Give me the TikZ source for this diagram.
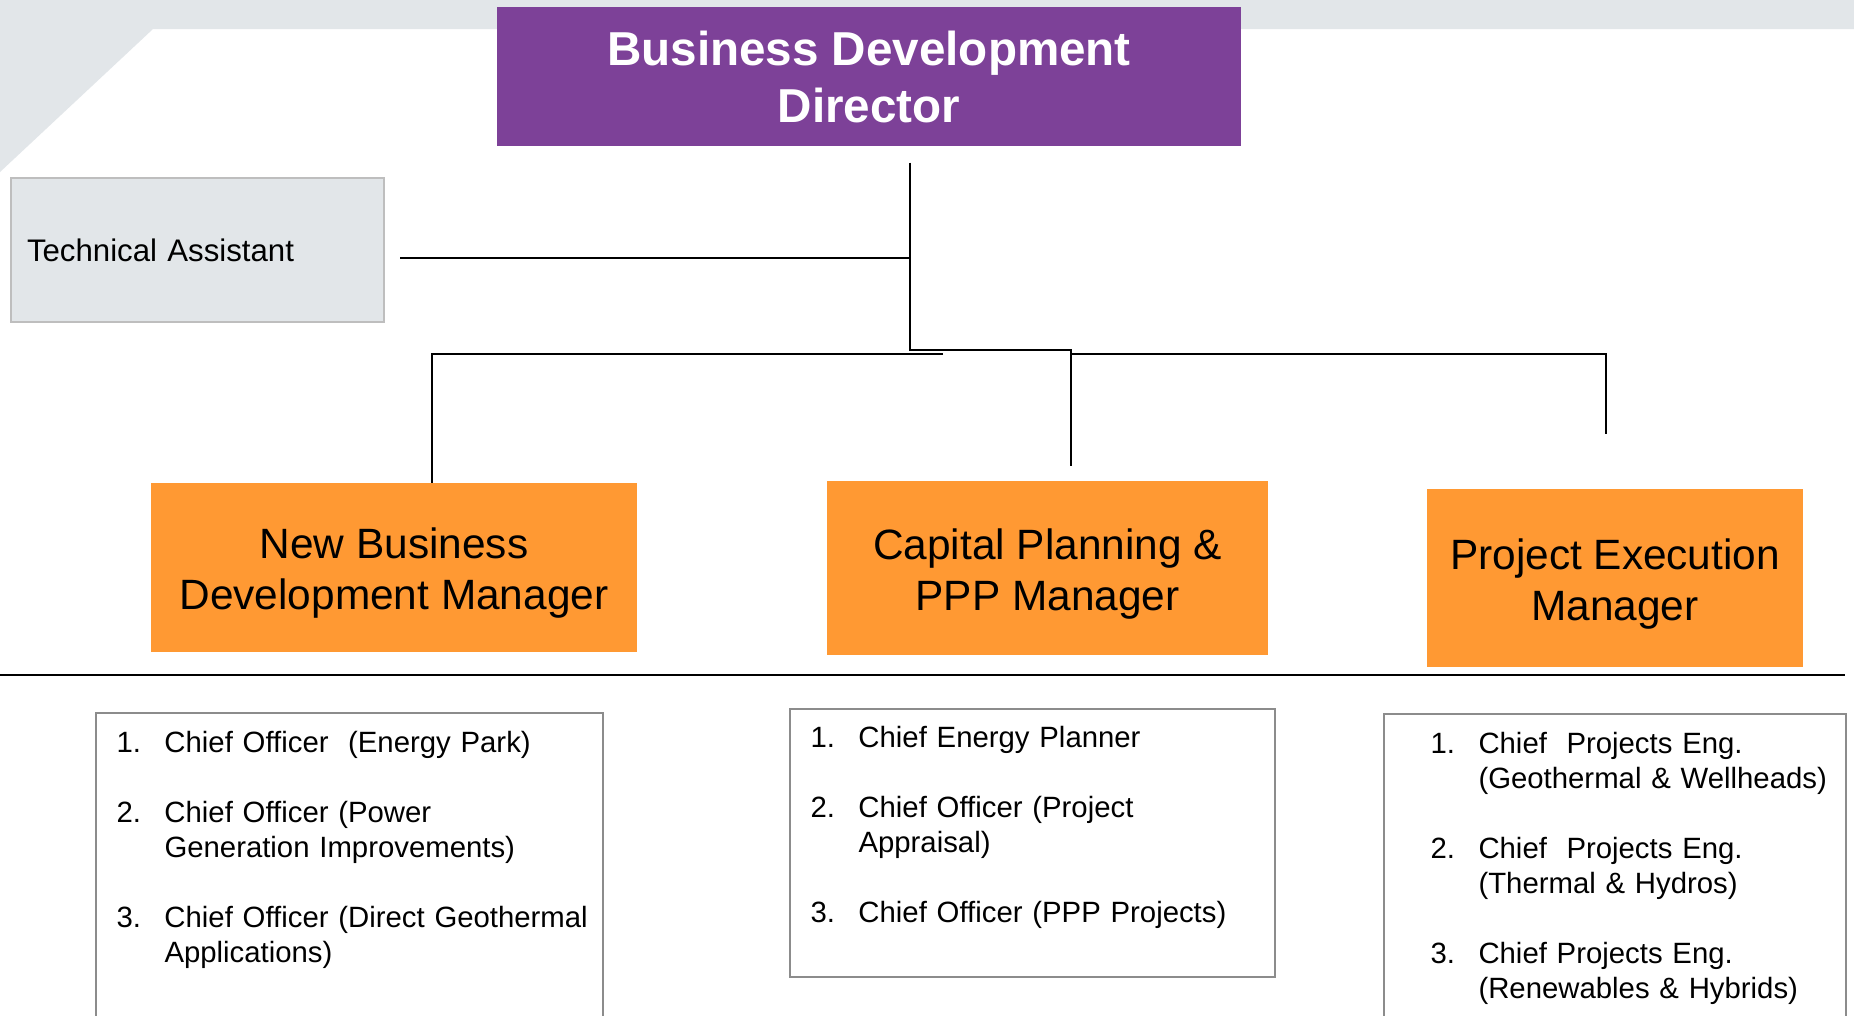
\documentclass[tikz,border=0pt]{standalone}
\usepackage{fontspec}
\setmainfont{Liberation Sans}
\usetikzlibrary{calc}

\definecolor{bdpurple}{RGB}{125,65,152}
\definecolor{mgrorange}{RGB}{255,153,51}
\definecolor{bggray}{RGB}{226,230,233}
\definecolor{asstedge}{RGB}{190,190,190}
\definecolor{listedge}{RGB}{140,140,140}

\newcommand{\roleitem}[2]{\par\hangindent=36pt\hangafter=1\noindent\makebox[36pt][l]{#1}#2\par}
\newcommand{\itemgap}{\vspace{26.25pt}}
\newcommand{\mgrstrut}{\rule{0pt}{32pt}}

\tikzset{every picture/.style={line width=0.75pt}}
\tikzset{
	headbox/.style={fill=bdpurple, text=white, inner sep=0pt, align=center, font=\fontsize{35.7}{42.75}\selectfont\bfseries},
	mgrbox/.style={fill=mgrorange, inner sep=0pt, align=center, font=\fontsize{31.8}{38.25}\selectfont},
	asstbox/.style={draw=asstedge, fill=bggray, line width=1.5pt, inner xsep=12pt, inner ysep=0pt, text width=255.75pt, align=left, minimum height=108pt, font=\fontsize{23.4}{28}\selectfont},
	listbox/.style={draw=listedge, line width=1.5pt, inner sep=0pt},
	listtext/.style={anchor=base west, inner sep=0pt, text width=400pt, font=\fontsize{22}{26.25}\selectfont},
	link/.style={line width=1.3pt}
}

\begin{document}
\begin{tikzpicture}[x=0.75pt,y=0.75pt,yscale=-1,xscale=1]
	\useasboundingbox (0,0) rectangle (1854,1015);
	\fill[white] (0,0) rectangle (1854,1015);

	%Shape: Banner
	\fill[bggray] (0,0) -- (1854,0) -- (1854,29) -- (153,29) -- (0,172) -- cycle ;

	% Director
	\node[headbox, minimum width=558pt, minimum height=104.25pt] (dir) at (869,76.5) {Business Development\\Director};
	% Assistant
	\node[asstbox] (ta) at (197.5,250) {Technical Assistant};
	% Managers
	\node[mgrbox, minimum width=364.5pt, minimum height=126.75pt] (nbd) at (394,567.5) {\mgrstrut New Business\\Development Manager};
	\node[mgrbox, minimum width=330.75pt, minimum height=130.5pt] (cap) at (1047.5,568) {\mgrstrut Capital Planning \&\\PPP Manager};
	\node[mgrbox, minimum width=282pt, minimum height=133.5pt] (pem) at (1615,578) {\mgrstrut Project Execution\\Manager};

	%Connectors
	\coordinate (hub) at (910,350);
	\coordinate (busl) at (943,354);
	\coordinate (busr) at (1071,354);
	\draw[link] ($(dir.south)+(41,16)$) -- (hub) -- (hub -| busr) -- ($(cap.north)+(23.5,-15)$);
	\draw[link] ($(ta.east)+(15,8)$) coordinate (tastub) -- (tastub -| hub);
	\draw[link] (busl) -| ($(nbd.north)+(38,0)$);
	\draw[link] (busr) -| ($(pem.north)+(-9,-55)$);

	%Separator
	\draw[line width=1.5pt] (0,675) -- (1845,675);

	% Lists
	\node[listbox, minimum width=380.25pt, minimum height=237.75pt] (lst1) at (349.5,871.5) {};
	\node[listbox, minimum width=363.75pt, minimum height=201pt] (lst2) at (1032.5,843) {};
	\node[listbox, minimum width=346.5pt, minimum height=237pt] (lst3) at (1615,872) {};

	% Text Node
	\node[listtext] (txt1) at (116,717) {%
		\roleitem{1.}{Chief Officer\ \ (Energy Park)}\itemgap
		\roleitem{2.}{Chief Officer (Power\newline Generation Improvements)}\itemgap
		\roleitem{3.}{Chief Officer (Direct Geothermal\newline Applications)}};
	% Text Node
	\node[listtext] (txt2) at (810,712) {%
		\roleitem{1.}{Chief Energy Planner}\itemgap
		\roleitem{2.}{Chief Officer (Project\newline Appraisal)}\itemgap
		\roleitem{3.}{Chief Officer (PPP Projects)}};
	% Text Node
	\node[listtext] (txt3) at (1430,718) {%
		\roleitem{1.}{Chief\ \ Projects Eng.\newline (Geothermal \& Wellheads)}\itemgap
		\roleitem{2.}{Chief\ \ Projects Eng.\newline (Thermal \& Hydros)}\itemgap
		\roleitem{3.}{Chief Projects Eng.\newline (Renewables \& Hybrids)}};

\end{tikzpicture}
\end{document}
